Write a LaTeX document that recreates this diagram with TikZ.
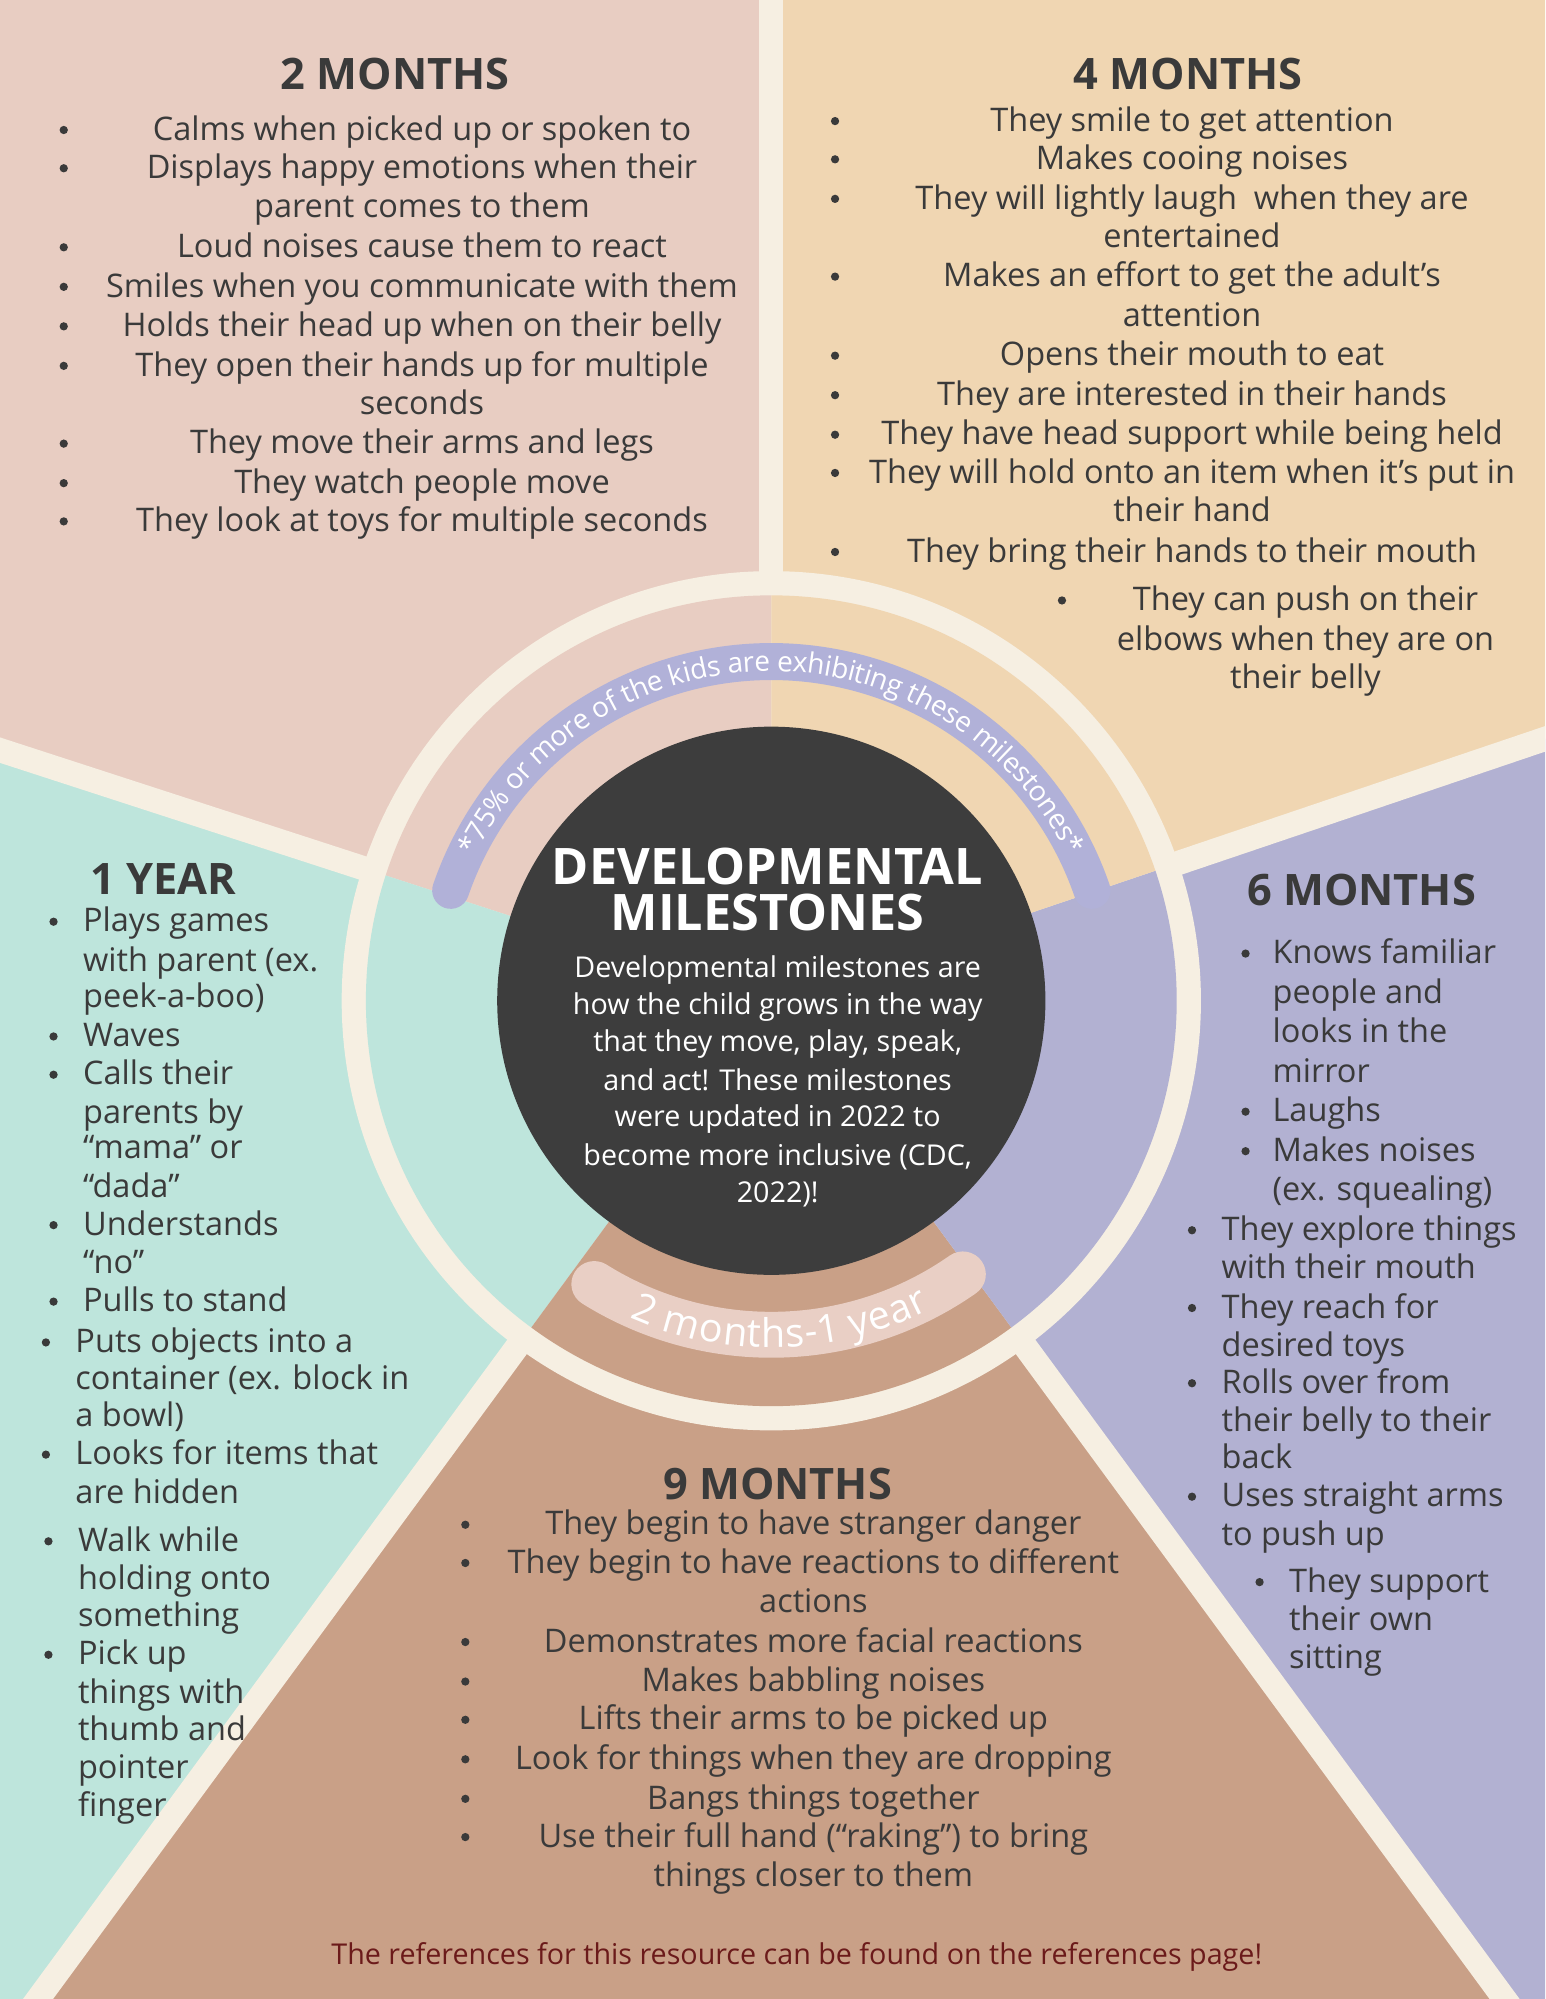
\documentclass[tikz,border=0pt]{standalone}
\usepackage{fontspec}
\setmainfont{Open Sans}
\usetikzlibrary{decorations.text}
\definecolor{pinkc}{HTML}{E8CDC2}
\definecolor{peach}{HTML}{F0D6B2}
\definecolor{lav}{HTML}{B2B1D2}
\definecolor{tan}{HTML}{C9A087}
\definecolor{mint}{HTML}{BEE5DC}
\definecolor{cream}{HTML}{F6EFE2}
\definecolor{darkc}{HTML}{3D3D3D}
\definecolor{band}{HTML}{B1B1D8}
\definecolor{band2}{HTML}{E9CFC5}
\definecolor{txtc}{HTML}{3A3A3A}
\definecolor{refc}{HTML}{6B1A1A}
\newcounter{ln}
\tikzset{
 txt/.style={inner sep=0pt,text=txtc,font=\fontsize{25.5}{30}\selectfont},
 hd/.style={inner sep=0pt,text=txtc,font=\fontsize{34}{38}\selectfont\bfseries},
 wtxt/.style={inner sep=0pt,text=white,font=\fontsize{22.5}{26}\selectfont},
 bul/.style={circle,fill=txtc,inner sep=0pt,minimum size=6.5pt},
 divider/.style={draw=cream,line width=19pt}
}
\newcommand{\Cl}[3]{\stepcounter{ln}\node[txt,anchor=base] (t\arabic{ln}) at ({#1},{1560-#2}) {#3};}
\newcommand{\Ll}[3]{\stepcounter{ln}\node[txt,anchor=base west] (t\arabic{ln}) at ({#1},{1560-#2}) {#3};}
\newcommand{\Bu}[2]{\stepcounter{ln}\node[bul] (t\arabic{ln}) at ({#1},{1568-#2}) {};}
\newcommand{\Hd}[3]{\stepcounter{ln}\node[hd,anchor=base] (t\arabic{ln}) at ({#1},{1556-#2}) {#3};}
\newcommand{\Wl}[3]{\stepcounter{ln}\node[wtxt,anchor=base] (t\arabic{ln}) at ({#1},{1561-#2}) {#3};}
\begin{document}
\begin{tikzpicture}[x=1pt,y=1pt]
\useasboundingbox (0,0) rectangle (1212,1568);
\clip (0,0) rectangle (1212,1568);
\coordinate (c) at (605,783);
\newcommand{\sectors}{%
\fill[pinkc] (c) -- ++(90:2500) arc[start angle=90,end angle=162,radius=2500] -- cycle;
\fill[mint] (c) -- ++(162:2500) arc[start angle=162,end angle=233.7,radius=2500] -- cycle;
\fill[tan] (c) -- ++(233.7:2500) arc[start angle=233.7,end angle=306.3,radius=2500] -- cycle;
\fill[lav] (c) -- ++(306.3:2500) arc[start angle=306.3,end angle=378.7,radius=2500] -- cycle;
\fill[peach] (c) -- ++(18.7:2500) arc[start angle=18.7,end angle=90,radius=2500] -- cycle;}
\sectors
\foreach \a in {90,162,233.7,306.3,18.7} \draw[divider] (c) -- ++(\a:2500);
\fill[cream] (c) circle[radius=337];
\begin{scope}
\clip (c) circle[radius=318];
\sectors
\end{scope}
\fill[darkc] (c) circle[radius=215];
% arc bands
\begin{scope}[shift={(c)}]
\draw[band,line width=29pt,line cap=round] (161:266) arc[start angle=161,end angle=19,radius=266];
\path[decorate,decoration={text along path,text align=center,raise=-7.5pt,
 text={|\fontsize{22}{22}\selectfont\color{white}|*75{\%} or more of the kids are exhibiting these milestones*}}]
 (161:266) arc[start angle=161,end angle=19,radius=266];
\draw[band2,line width=36pt,line cap=round] (238:262) arc[start angle=238,end angle=305,radius=262];
\path[decorate,decoration={text along path,text align=center,raise=-10pt,
 text={|\fontsize{31}{31}\selectfont\color{white}|2 months-1 year}}]
 (238:262) arc[start angle=238,end angle=305,radius=262];
\end{scope}
% center text
\node[inner sep=0pt,text=white,font=\fontsize{39.5}{40}\selectfont\bfseries,anchor=base] (dt1) at (602,{1568-680-14}) {DEVELOPMENTAL};
\node[inner sep=0pt,text=white,font=\fontsize{39.5}{40}\selectfont\bfseries,anchor=base] (dt2) at (602,{1568-716-14}) {MILESTONES};
\Wl{610}{760}{Developmental milestones are}
\Wl{610}{789}{how the child grows in the way}
\Wl{610}{818}{that they move, play, speak,}
\Wl{610}{848}{and act! These milestones}
\Wl{610}{877}{were updated in 2022 to}
\Wl{610}{907}{become more inclusive (CDC,}
\Wl{610}{936}{2022)!}
% 2 months
\Hd{310}{58}{2 MONTHS}
\Cl{331}{102}{Calms when picked up or spoken to}
\Cl{331}{132}{Displays happy emotions when their}
\Cl{331}{163}{parent comes to them}
\Cl{331}{194}{Loud noises cause them to react}
\Cl{331}{225}{Smiles when you communicate with them}
\Cl{331}{256}{Holds their head up when on their belly}
\Cl{331}{287}{They open their hands up for multiple}
\Cl{331}{317}{seconds}
\Cl{331}{348}{They move their arms and legs}
\Cl{331}{379}{They watch people move}
\Cl{331}{409}{They look at toys for multiple seconds}
\foreach \y in {102,132,194,225,256,287,348,379,409} {\Bu{50}{\y}}
% 4 months
\Hd{932}{58}{4 MONTHS}
\Cl{935}{95}{They smile to get attention}
\Cl{935}{125}{Makes cooing noises}
\Cl{935}{156}{They will lightly laugh\ \ when they are}
\Cl{935}{186}{entertained}
\Cl{935}{217}{Makes an effort to get the adult’s}
\Cl{935}{248}{attention}
\Cl{935}{279}{Opens their mouth to eat}
\Cl{935}{310}{They are interested in their hands}
\Cl{935}{341}{They have head support while being held}
\Cl{935}{371}{They will hold onto an item when it’s put in}
\Cl{935}{401}{their hand}
\Cl{935}{433}{They bring their hands to their mouth}
\foreach \y in {95,125,156,217,279,310,341,371,433} {\Bu{655}{\y}}
\Bu{833}{471}
\Cl{1024}{471}{They can push on their}
\Cl{1024}{502}{elbows when they are on}
\Cl{1024}{532}{their belly}
% 6 months
\Hd{1068}{698}{6 MONTHS}
\foreach \y in {748,872,903} {\Bu{977}{\y}}
\Ll{998}{748}{Knows familiar}
\Ll{998}{779}{people and}
\Ll{998}{810}{looks in the}
\Ll{998}{841}{mirror}
\Ll{998}{872}{Laughs}
\Ll{998}{903}{Makes noises}
\Ll{998}{934}{(ex. squealing)}
\foreach \y in {965,1026,1085,1174} {\Bu{935}{\y}}
\Ll{958}{965}{They explore things}
\Ll{958}{995}{with their mouth}
\Ll{958}{1026}{They reach for}
\Ll{958}{1056}{desired toys}
\Ll{958}{1085}{Rolls over from}
\Ll{958}{1115}{their belly to their}
\Ll{958}{1144}{back}
\Ll{958}{1174}{Uses straight arms}
\Ll{958}{1204}{to push up}
\Bu{988}{1241}
\Ll{1011}{1241}{They support}
\Ll{1011}{1271}{their own}
\Ll{1011}{1301}{sitting}
% 1 year
\Hd{128}{690}{1 YEAR}
\foreach \y in {723,813,843,961,1021} {\Bu{42}{\y}}
\Ll{65}{723}{Plays games}
\Ll{65}{754}{with parent (ex.}
\Ll{65}{782}{peek-a-boo)}
\Ll{65}{813}{Waves}
\Ll{65}{843}{Calls their}
\Ll{65}{873}{parents by}
\Ll{65}{901}{“mama” or}
\Ll{65}{931}{“dada”}
\Ll{65}{961}{Understands}
\Ll{65}{991}{“no”}
\Ll{65}{1021}{Pulls to stand}
\foreach \y in {1053,1141} {\Bu{36}{\y}}
\Ll{59}{1053}{Puts objects into a}
\Ll{59}{1082}{container (ex. block in}
\Ll{59}{1111}{a bowl)}
\Ll{59}{1141}{Looks for items that}
\Ll{59}{1171}{are hidden}
\foreach \y in {1209,1298} {\Bu{38}{\y}}
\Ll{61}{1209}{Walk while}
\Ll{61}{1239}{holding onto}
\Ll{61}{1268}{something}
\Ll{61}{1298}{Pick up}
\Ll{61}{1328}{things with}
\Ll{61}{1357}{thumb and}
\Ll{61}{1387}{pointer}
\Ll{61}{1417}{finger}
% 9 months
\Hd{610}{1164}{9 MONTHS}
\Cl{638}{1196}{They begin to have stranger danger}
\Cl{638}{1226}{They begin to have reactions to different}
\Cl{638}{1257}{actions}
\Cl{638}{1288}{Demonstrates more facial reactions}
\Cl{638}{1319}{Makes babbling noises}
\Cl{638}{1349}{Lifts their arms to be picked up}
\Cl{638}{1380}{Look for things when they are dropping}
\Cl{638}{1411}{Bangs things together}
\Cl{638}{1441}{Use their full hand (“raking”) to bring}
\Cl{638}{1472}{things closer to them}
\foreach \y in {1196,1226,1288,1319,1349,1380,1411,1441} {\Bu{365}{\y}}
\node[inner sep=0pt,text=refc,font=\fontsize{22.5}{24}\selectfont,anchor=base] (refs) at (625,{1568-1533-8}) {The references for this resource can be found on the references page!};
\end{tikzpicture}
\end{document}
